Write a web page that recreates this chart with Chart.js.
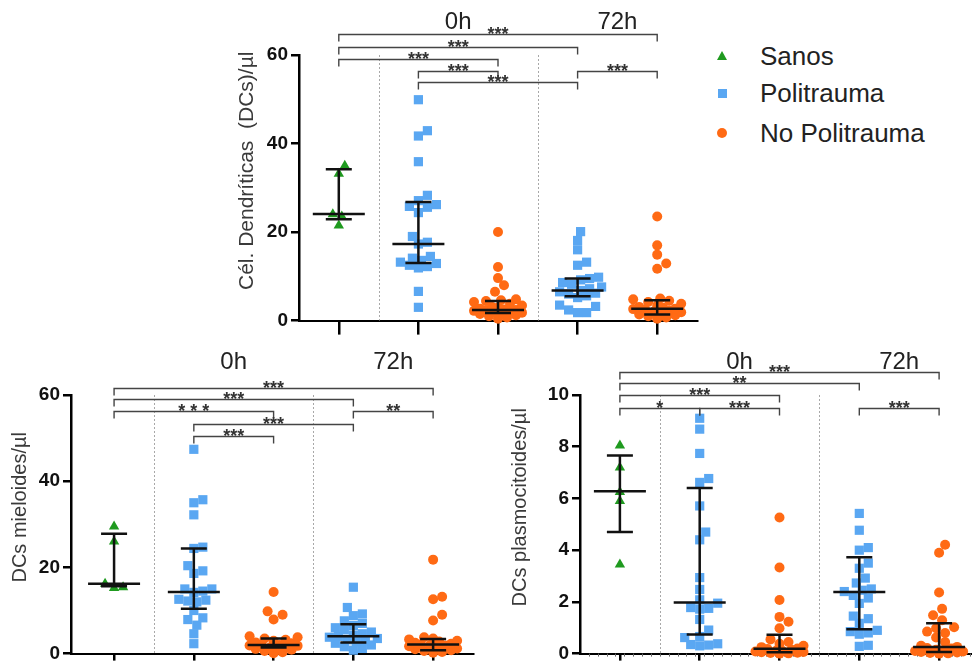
<!DOCTYPE html>
<html>
<head>
<meta charset="utf-8">
<script src="https://cdn.jsdelivr.net/npm/chart.js@4.4.1/dist/chart.umd.min.js"></script>
<style>
html,body{margin:0;padding:0;background:#fff;width:972px;height:668px;overflow:hidden;position:relative;font-family:'Liberation Sans',Arial,sans-serif}
canvas{position:absolute}
#c1{left:220px;top:0}
#c2{left:0;top:340px}
#c3{left:500px;top:340px}
.leg{position:absolute;left:760px;font-size:26px;color:#222;line-height:30px;white-space:nowrap}
.mk{position:absolute}
</style>
</head>
<body>
<canvas id="c1" width="480" height="335"></canvas>
<canvas id="c2" width="480" height="328"></canvas>
<canvas id="c3" width="480" height="328"></canvas>

<div class="mk" style="left:717px;top:51px;width:0;height:0;border-left:5px solid transparent;border-right:5px solid transparent;border-bottom:9px solid #1f9a1f"></div>
<div class="leg" style="top:41px">Sanos</div>
<div class="mk" style="left:718px;top:89px;width:9px;height:9px;background:#5aa7f2"></div>
<div class="leg" style="top:78px">Politrauma</div>
<div class="mk" style="left:717px;top:128px;width:10px;height:10px;border-radius:50%;background:#ff6a14"></div>
<div class="leg" style="top:118px">No Politrauma</div>

<script>
const FONT = "'Liberation Sans', Arial, sans-serif";
const GREEN = '#1f9a1f', BLUE = '#5aa7f2', ORANGE = '#ff6a14';

const groups = ['Sanos', 'Politrauma 0h', 'No Politrauma 0h', 'Politrauma 72h', 'No Politrauma 72h'];
const periods = ['0h', '72h'];

/* Células dendríticas totales */
const totSanos = [35.0, 33.2, 24.0, 23.5, 21.5];
const totPoli0h = [49.9, 42.9, 41.7, 35.9, 28.3, 27.1, 26.2, 25.8, 25.6, 24.4, 19.0, 17.7, 17.3, 14.5, 14.1, 13.6, 13.2, 12.9, 12.5, 12.2, 11.9, 6.6, 3.0];
const totNoPoli0h = [20.0, 12.1, 9.6, 8.0, 6.5, 4.8, 4.6, 4.4, 4.2, 3.8, 3.4, 3.1, 2.9, 2.7, 2.5, 2.4, 2.3, 2.2, 2.0, 1.9, 1.8, 1.7, 1.5, 1.2, 1.0, 0.7, 0.4];
const totPoli72h = [20.1, 18.1, 16.0, 13.2, 12.5, 9.8, 9.5, 9.2, 8.6, 8.2, 7.6, 7.2, 6.8, 6.5, 6.2, 6.0, 5.6, 5.2, 3.5, 3.2, 2.4, 1.8, 1.8];
const totNoPoli72h = [23.5, 17.0, 14.9, 12.9, 11.7, 5.0, 4.8, 4.5, 4.2, 3.8, 3.4, 3.1, 2.9, 2.7, 2.6, 2.5, 2.3, 2.1, 1.9, 1.6, 1.4, 1.2, 1.0, 0.7, 0.4];
const totMedian = [24.1, 17.3, 2.4, 6.8, 2.7];
const totQ1 = [22.9, 13.0, 1.7, 5.5, 1.4];
const totQ3 = [34.2, 26.8, 4.4, 9.5, 4.6];
const totSig = [[0, 4, '***', 64.7], [0, 3, '***', 61.8], [0, 2, '***', 59.1], [1, 2, '***', 56.4], [1, 3, '***', 53.9], [3, 4, '***', 56.4]];

/* DCs mieloides */
const mieSanos = [29.5, 26.0, 16.2, 15.4, 15.2];
const miePoli0h = [47.4, 35.7, 35.0, 32.2, 24.7, 24.4, 20.4, 19.2, 18.6, 15.0, 15.0, 14.5, 14.2, 12.6, 12.4, 12.2, 12.0, 10.0, 8.3, 7.9, 6.6, 4.6, 2.3];
const mieNoPoli0h = [14.3, 9.8, 9.0, 7.9, 4.0, 3.8, 3.5, 3.2, 3.0, 2.6, 2.4, 2.0, 2.0, 1.9, 1.8, 1.6, 1.5, 1.3, 1.1, 0.9, 0.6, 0.3, 0.1];
const miePoli72h = [15.4, 10.7, 9.2, 8.8, 7.6, 7.0, 6.5, 6.0, 5.5, 5.0, 4.6, 4.3, 4.0, 3.8, 3.5, 3.2, 3.0, 2.7, 2.4, 2.0, 1.6, 1.2, 0.8];
const mieNoPoli72h = [21.8, 13.2, 12.6, 9.0, 7.7, 3.8, 3.5, 3.3, 3.0, 2.8, 2.5, 2.3, 2.1, 2.0, 1.9, 1.7, 1.5, 1.2, 1.0, 0.8, 0.6, 0.4, 0.2];
const mieMedian = [16.2, 14.3, 2.0, 4.0, 2.1];
const mieQ1 = [15.6, 10.4, 1.4, 2.6, 0.8];
const mieQ3 = [27.8, 24.4, 3.5, 6.8, 3.4];
const mieSig = [[0, 4, '***', 61.6], [0, 3, '***', 59.1], [0, 2, '* * *', 56.4], [3, 4, '**', 56.4], [1, 3, '***', 53.2], [1, 2, '***', 50.5]];

/* DCs plasmocitoides */
const plaSanos = [8.05, 7.2, 6.25, 5.9, 3.45];
const plaPoli0h = [9.1, 8.68, 7.74, 6.77, 6.62, 5.71, 4.7, 4.4, 2.94, 2.48, 2.08, 1.95, 1.78, 1.75, 1.72, 1.32, 0.91, 0.66, 0.62, 0.38, 0.35, 0.33, 0.30];
const plaNoPoli0h = [5.26, 3.33, 2.07, 1.42, 1.23, 0.98, 0.55, 0.45, 0.38, 0.3, 0.25, 0.2, 0.18, 0.15, 0.12, 0.1, 0.08, 0.06, 0.05, 0.03, 0.02, 0.01, 0.0];
const plaPoli72h = [5.42, 4.77, 4.1, 4.0, 3.5, 3.3, 2.92, 2.73, 2.5, 2.45, 2.4, 2.25, 2.15, 1.94, 1.45, 1.35, 1.17, 0.9, 0.85, 0.8, 0.75, 0.32, 0.28];
const plaNoPoli72h = [4.21, 3.9, 2.36, 1.73, 1.48, 1.29, 1.02, 0.98, 0.85, 0.8, 0.62, 0.45, 0.3, 0.26, 0.22, 0.2, 0.15, 0.12, 0.1, 0.08, 0.06, 0.04, 0.02, 0.01, 0.0];
const plaMedian = [6.28, 1.98, 0.19, 2.38, 0.26];
const plaQ1 = [4.70, 0.74, 0.05, 0.94, 0.06];
const plaQ3 = [7.66, 6.40, 0.73, 3.73, 1.17];
const plaSig = [[0, 4, '***', 10.9], [0, 3, '**', 10.45], [0, 2, '***', 10.0], [0, 1, '*', 9.51], [1, 2, '***', 9.51], [3, 4, '***', 9.51]];

const styles = [['triangle', GREEN, 6], ['rect', BLUE, 6.5], ['circle', ORANGE, 5], ['rect', BLUE, 6.5], ['circle', ORANGE, 5]];

/* beeswarm: desplaza en x los puntos que se pisan (con solape si no cabe) */
function swarm(values, cat, chart, size){
  const xs = chart.scales.x, ys = chart.scales.y;
  const unit = xs.getPixelForValue(1) - xs.getPixelForValue(0);
  const maxOff = 26, step = 3;
  const placed = [];
  const pts = values.map(v => ({v, py: ys.getPixelForValue(v), dx: 0})).sort((a, b) => a.v - b.v);
  pts.forEach(p => {
    let best = 0, bestD = -1;
    search:
    for (let off = 0; off <= maxOff; off += step){
      for (const o of (off ? [off, -off] : [0])){
        const d = placed.reduce((m, q) => Math.min(m, Math.hypot(q.dx - o, q.py - p.py)), Infinity);
        if (d >= size){ best = o; break search; }
        if (d > bestD + 0.5){ bestD = d; best = o; }
      }
    }
    p.dx = best;
    placed.push(p);
  });
  return pts.map(p => ({x: cat + p.dx / unit, y: p.v}));
}

function extras(cfg){
  return {
    id: 'extras',
    beforeDatasetsDraw(chart){
      const {ctx, chartArea: a, scales: {x}} = chart;
      ctx.save();
      ctx.strokeStyle = '#a8a8a8';
      ctx.lineWidth = 1;
      ctx.setLineDash([2, 2]);
      [0.5, 2.5].forEach(v => {
        const px = Math.round(x.getPixelForValue(v)) + 0.5;
        ctx.beginPath(); ctx.moveTo(px, a.top); ctx.lineTo(px, a.bottom); ctx.stroke();
      });
      ctx.setLineDash([]);
      if (cfg.minorTicks){
        ctx.strokeStyle = '#666';
        for (let v = cfg.xMin + 1 / 9; v < 4.5; v += 1 / 9){
          const px = Math.round(x.getPixelForValue(v)) + 0.5;
          ctx.beginPath(); ctx.moveTo(px, a.bottom); ctx.lineTo(px, a.bottom + 3); ctx.stroke();
        }
      }
      ctx.restore();
    },
    afterDatasetsDraw(chart){
      const {ctx, chartArea: a, scales: {x, y}} = chart;
      ctx.save();
      /* mediana y rango intercuartílico */
      ctx.strokeStyle = '#111';
      ctx.lineWidth = 2.5;
      cfg.median.forEach((m, i) => {
        const px = x.getPixelForValue(i);
        const y1 = y.getPixelForValue(cfg.q1[i]), y3 = y.getPixelForValue(cfg.q3[i]), ym = y.getPixelForValue(m);
        ctx.beginPath();
        ctx.moveTo(px, y1); ctx.lineTo(px, y3);
        ctx.moveTo(px - 13, y1); ctx.lineTo(px + 13, y1);
        ctx.moveTo(px - 13, y3); ctx.lineTo(px + 13, y3);
        ctx.moveTo(px - 26, ym); ctx.lineTo(px + 26, ym);
        ctx.stroke();
      });
      /* significación */
      ctx.strokeStyle = '#444';
      ctx.lineWidth = 1.4;
      ctx.fillStyle = '#333';
      ctx.font = 'bold 18px ' + FONT;
      ctx.textAlign = 'center';
      ctx.textBaseline = 'alphabetic';
      cfg.sig.forEach(([i, j, label, v]) => {
        const x1 = x.getPixelForValue(i), x2 = x.getPixelForValue(j), py = Math.round(y.getPixelForValue(v)) + 0.5;
        ctx.beginPath();
        ctx.moveTo(x1, py + 7); ctx.lineTo(x1, py); ctx.lineTo(x2, py); ctx.lineTo(x2, py + 7);
        ctx.stroke();
        ctx.fillText(label, (x1 + x2) / 2, py + 5);
      });
      /* 0h / 72h */
      ctx.fillStyle = '#222';
      ctx.font = '24px ' + FONT;
      ctx.textBaseline = 'middle';
      periods.forEach((t, k) => ctx.fillText(t, x.getPixelForValue(1.5 + 2 * k), a.top - 33));
      /* título del eje y */
      ctx.translate(cfg.titleX, (a.top + a.bottom) / 2 - 17);
      ctx.rotate(-Math.PI / 2);
      ctx.fillStyle = '#3a3a3a';
      ctx.font = cfg.titleSize + 'px ' + FONT;
      ctx.fillText(cfg.title, 0, 0);
      ctx.restore();
    }
  };
}

function makeChart(id, cfg){
  const chart = new Chart(document.getElementById(id), {
    type: 'scatter',
    data: {
      datasets: cfg.series.map((vals, i) => ({
        label: groups[i],
        data: vals.map(v => ({x: i, y: v})),
        pointStyle: styles[i][0],
        backgroundColor: styles[i][1],
        pointRadius: styles[i][2],
        pointBorderWidth: 0,
        borderWidth: 0,
        clip: false
      }))
    },
    options: {
      responsive: false,
      animation: false,
      events: [],
      layout: {autoPadding: false, padding: {top: 55, right: cfg.padRight, left: 0, bottom: 0}},
      plugins: {legend: {display: false}, tooltip: {enabled: false}},
      scales: {
        x: {
          type: 'linear', min: cfg.xMin, max: 4.5,
          afterBuildTicks: s => { s.ticks = [0, 1, 2, 3, 4].map(v => ({value: v})); },
          afterFit: s => { s.height = cfg.xHeight; },
          ticks: {display: false},
          grid: {drawOnChartArea: false, tickLength: cfg.xHeight, color: '#000', lineWidth: 2.5},
          border: {color: '#000', width: 2}
        },
        y: {
          min: 0, max: cfg.yMax,
          afterFit: s => { s.width = cfg.yWidth; },
          ticks: {stepSize: cfg.yStep, color: '#111', padding: 3, font: {family: FONT, size: 19, weight: 'bold'}},
          grid: {drawOnChartArea: false, tickLength: 8, color: '#000', lineWidth: 2.5},
          border: {color: '#000', width: 2.5}
        }
      }
    },
    plugins: [extras(cfg)]
  });
  chart.data.datasets.forEach((ds, i) => { ds.data = swarm(cfg.series[i], i, chart, 9); });
  chart.update('none');
  return chart;
}

makeChart('c1', {
  series: [totSanos, totPoli0h, totNoPoli0h, totPoli72h, totNoPoli72h],
  median: totMedian, q1: totQ1, q3: totQ3, sig: totSig,
  yMax: 60, yStep: 20, yWidth: 79, xHeight: 14, xMin: -0.5, padRight: 3,
  title: 'Cél. Dendríticas  (DCs)/µl', titleSize: 21, titleX: 27
});
makeChart('c2', {
  series: [mieSanos, miePoli0h, mieNoPoli0h, miePoli72h, mieNoPoli72h],
  median: mieMedian, q1: mieQ1, q3: mieQ3, sig: mieSig,
  yMax: 60, yStep: 20, yWidth: 71, xHeight: 7, xMin: -0.54, padRight: 7,
  title: 'DCs mieloides/µl', titleSize: 20, titleX: 20
});
makeChart('c3', {
  series: [plaSanos, plaPoli0h, plaNoPoli0h, plaPoli72h, plaNoPoli72h],
  median: plaMedian, q1: plaQ1, q3: plaQ3, sig: plaSig,
  yMax: 10, yStep: 2, yWidth: 80, xHeight: 7, xMin: -0.5, padRight: 1, minorTicks: true,
  title: 'DCs plasmocitoides/µl', titleSize: 20, titleX: 20
});
</script>
</body>
</html>
